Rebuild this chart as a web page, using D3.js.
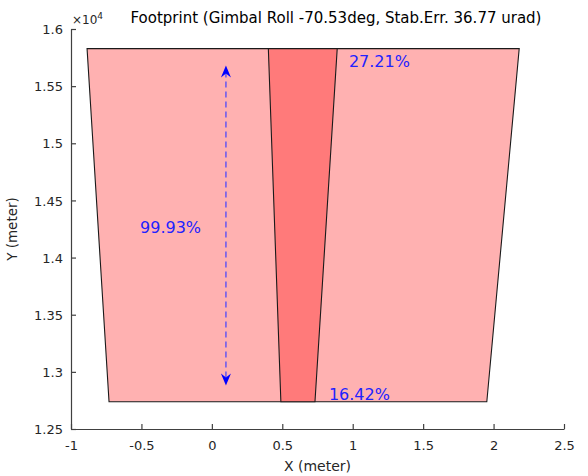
<!DOCTYPE html>
<html>
<head>
<meta charset="utf-8">
<script src="https://cdn.jsdelivr.net/npm/d3@7"></script>
<style>
  html, body { margin: 0; padding: 0; background: #fff; }
  svg { display: block; font-family: "DejaVu Sans", sans-serif; }
</style>
</head>
<body>
<svg id="chart" width="588" height="476"></svg>
<script>
// Axis ticks
const xTicks = [-1, -0.5, 0, 0.5, 1, 1.5, 2, 2.5];
const yTicks = [12500, 13000, 13500, 14000, 14500, 15000, 15500, 16000];

// Ground footprint (corners: top-left, top-right, bottom-right, bottom-left)
const footprintX = [-0.886, 2.182, 1.952, -0.730];
const footprintY = [15828, 15828, 12739, 12739];

// Stabilisation-error strip inside the footprint
const stripX = [0.401, 0.890, 0.732, 0.490];
const stripY = [15828, 15828, 12739, 12739];

// Coverage labels
const labelText = ["27.21%", "16.42%", "99.93%"];
const labelX = [0.973, 0.831, -0.510];
const labelY = [15720, 12806, 14267];

// Vertical extent arrow
const arrowX = [0.1, 0.1];
const arrowY = [15680, 12880];

const title = "Footprint (Gimbal Roll -70.53deg, Stab.Err. 36.77 urad)";

const margin = { left: 71, right: 24, top: 29, bottom: 47 };
const W = 588, H = 476;
const svg = d3.select("#chart");

const x = d3.scaleLinear().domain([-1, 2.5]).range([margin.left, W - margin.right]);
const y = d3.scaleLinear().domain([12500, 16000]).range([H - margin.bottom, margin.top]);

const pts = (xs, ys) => xs.map((v, i) => [x(v), y(ys[i])].join(",")).join(" ");
const num = d => d3.format("~g")(d).replace("\u2212", "-");

// Footprint with the darker strip on top
svg.append("polygon")
  .attr("points", pts(footprintX, footprintY))
  .attr("fill", "#ffb1b1")
  .attr("stroke", "#1a1a1a").attr("stroke-width", 1.1);

svg.append("polygon")
  .attr("points", pts(stripX, stripY))
  .attr("fill", "#ff7a7a")
  .attr("stroke", "#1a1a1a").attr("stroke-width", 1.1);

// Axes
const axisColor = "#404040";
const xAxis = d3.axisBottom(x).tickValues(xTicks).tickSizeInner(-5).tickSizeOuter(0)
  .tickFormat(num);
const yAxis = d3.axisLeft(y).tickValues(yTicks).tickSizeInner(-5).tickSizeOuter(0)
  .tickFormat(d => num(d / 1e4));

const gx = svg.append("g").attr("transform", `translate(0,${H - margin.bottom})`).call(xAxis);
const gy = svg.append("g").attr("transform", `translate(${margin.left},0)`).call(yAxis);

[gx, gy].forEach(g => {
  g.select(".domain").attr("stroke", axisColor).attr("stroke-width", 1.2);
  g.selectAll(".tick line").attr("stroke", axisColor).attr("stroke-width", 1.2);
  g.selectAll(".tick text").attr("fill", "#262626")
    .style("font-size", "13px").style("font-family", "'DejaVu Sans', sans-serif");
});
gx.selectAll(".tick text").attr("dy", null).attr("y", 21);
gy.selectAll(".tick text").attr("x", -8).attr("dy", "0.36em");

// Exponent marker
const expo = svg.append("text").attr("x", 72).attr("y", 24)
  .attr("fill", "#262626").style("font-size", "12px");
expo.append("tspan").text("\u00d710");
expo.append("tspan").attr("dy", -5).style("font-size", "9px").text("4");

// Axis titles
svg.append("text").attr("x", (x(-1) + x(2.5)) / 2).attr("y", 471)
  .attr("text-anchor", "middle").attr("fill", "#262626").style("font-size", "14px")
  .text("X (meter)");
svg.append("text").attr("transform", `translate(17,${(y(12500) + y(16000)) / 2}) rotate(-90)`)
  .attr("text-anchor", "middle").attr("fill", "#262626").style("font-size", "13.5px")
  .text("Y (meter)");

// Title
svg.append("text").attr("x", 336).attr("y", 23)
  .attr("text-anchor", "middle").attr("fill", "#000").style("font-size", "15px")
  .text(title);

// Coverage labels
svg.selectAll("text.pct").data(labelText).join("text")
  .attr("class", "pct")
  .attr("x", (d, i) => x(labelX[i]))
  .attr("y", (d, i) => y(labelY[i]))
  .attr("dy", "0.36em")
  .attr("fill", "#2222ff").style("font-size", "16px")
  .text(d => d);

// Double-headed dashed arrow
const ax = x(arrowX[0]);
const ay0 = y(arrowY[0]), ay1 = y(arrowY[1]);
svg.append("line")
  .attr("x1", ax).attr("x2", ax).attr("y1", ay0 + 6).attr("y2", ay1 - 6)
  .attr("stroke", "#4040ff").attr("stroke-width", 1.2)
  .attr("stroke-dasharray", "6,4");
const head = (tipY, dir) => {
  // dir = +1 points up, -1 points down
  const L = 12, Wd = 5, back = 8;
  return [
    [ax, tipY],
    [ax + Wd, tipY + dir * L],
    [ax, tipY + dir * back],
    [ax - Wd, tipY + dir * L]
  ].map(p => p.join(",")).join(" ");
};
svg.append("polygon").attr("points", head(ay0, 1)).attr("fill", "#0000ff");
svg.append("polygon").attr("points", head(ay1, -1)).attr("fill", "#0000ff");
</script>
</body>
</html>
